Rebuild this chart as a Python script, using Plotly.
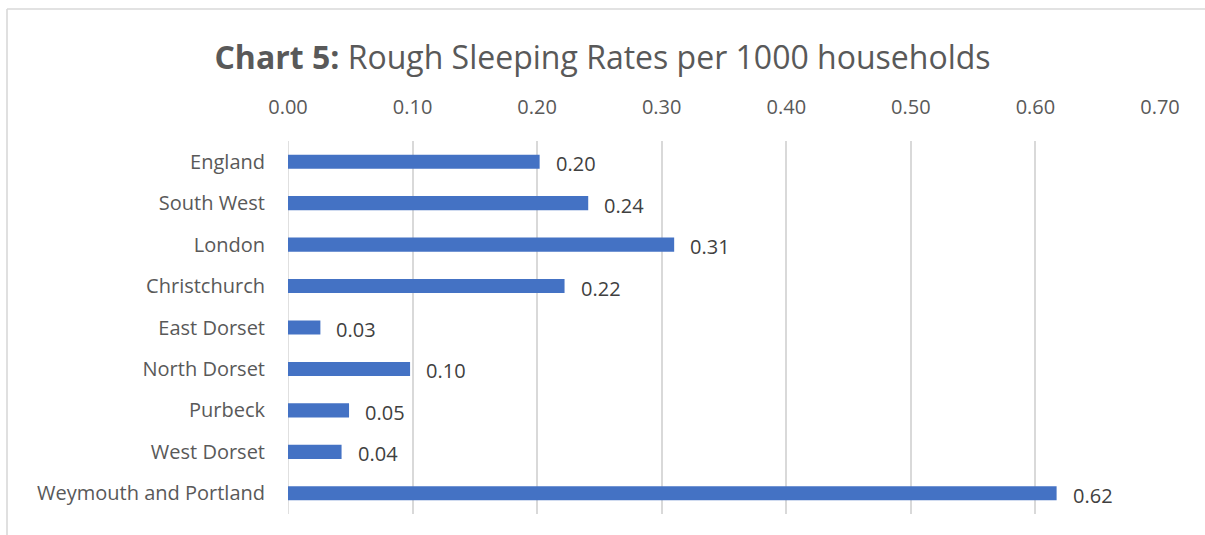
import plotly.graph_objects as go

categories = ["England", "South West", "London", "Christchurch", "East Dorset",
              "North Dorset", "Purbeck", "West Dorset", "Weymouth and Portland"]
rates = [0.202, 0.241, 0.310, 0.222, 0.026, 0.098, 0.049, 0.043, 0.617]
labels = ["0.20", "0.24", "0.31", "0.22", "0.03", "0.10", "0.05", "0.04", "0.62"]
tick_vals = [0.0, 0.1, 0.2, 0.3, 0.4, 0.5, 0.6, 0.7]
tick_text = ["0.00", "0.10", "0.20", "0.30", "0.40", "0.50", "0.60", "0.70"]

FONT = "Open Sans"
GREY = "#595959"

fig = go.Figure()
fig.add_trace(go.Bar(
    x=rates, y=categories, orientation="h",
    marker=dict(color="#4472C4", line=dict(width=0)),
    hoverinfo="skip",
))

for c, v, t in zip(categories, rates, labels):
    fig.add_annotation(x=v, y=c, text=t, showarrow=False, xanchor="left",
                       yanchor="middle", xshift=14, yshift=-2,
                       font=dict(family=FONT, size=20, color="#404040"))

TOP = 1 + (141 - 9) / 373
LEFT = -(288 - 7) / 872
RIGHT = (1205 - 288) / 872

fig.update_layout(
    width=1205, height=535,
    margin=dict(l=288, r=45, t=141, b=21),
    paper_bgcolor="white", plot_bgcolor="white",
    bargap=0.66,
    showlegend=False,
    title=dict(text="<b>Chart 5:</b> Rough Sleeping Rates per 1000 households",
               x=0.5, xref="container", xanchor="center",
               y=1 - 58 / 535, yref="container", yanchor="middle",
               font=dict(family=FONT, size=32, color=GREY)),
    xaxis=dict(range=[0, 0.7], side="top", tickvals=tick_vals, ticktext=tick_text,
               showgrid=True, gridcolor="#D9D9D9", gridwidth=1.6, zeroline=False,
               showline=False, ticks="outside", ticklen=18, tickcolor="rgba(0,0,0,0)",
               tickfont=dict(family=FONT, size=20, color=GREY), fixedrange=True),
    yaxis=dict(categoryorder="array", categoryarray=categories[::-1],
               showgrid=False, zeroline=False,
               showline=False, ticks="outside", ticklen=18, tickcolor="rgba(0,0,0,0)",
               tickfont=dict(family=FONT, size=20, color=GREY), fixedrange=True),
    shapes=[
        dict(type="line", xref="x", yref="paper", x0=0, x1=0, y0=0, y1=1,
             line=dict(color="#D9D9D9", width=1.6), layer="below"),
        # chart-area border (top and left edges visible in the crop)
        dict(type="line", xref="paper", yref="paper",
             x0=LEFT, x1=RIGHT, y0=TOP, y1=TOP,
             line=dict(color="#D9D9D9", width=1.6), layer="below"),
        dict(type="line", xref="paper", yref="paper",
             x0=LEFT, x1=LEFT, y0=-21 / 373, y1=TOP,
             line=dict(color="#D9D9D9", width=1.6), layer="below"),
    ],
)

fig.write_html("out.html", config={"displayModeBar": False},
               post_script="document.body.style.margin='0';document.body.style.overflow='hidden';")
